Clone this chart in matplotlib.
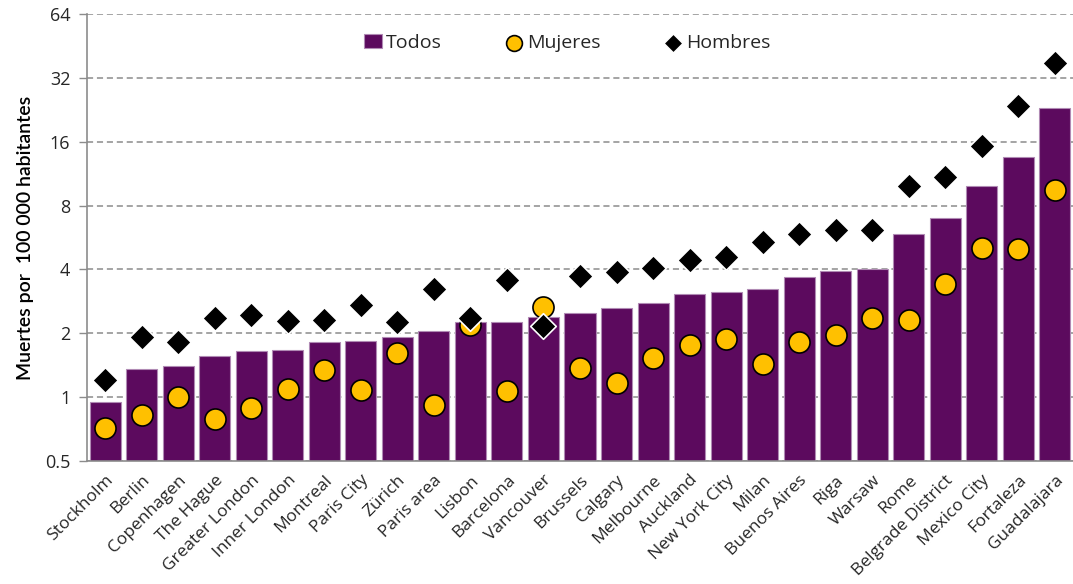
import matplotlib
matplotlib.use("Agg")
import matplotlib.pyplot as plt
from matplotlib.ticker import FixedLocator, NullLocator, FixedFormatter

cities = ["Stockholm", "Berlin", "Copenhagen", "The Hague", "Greater London", "Inner London",
          "Montreal", "Paris City", "Zürich", "Paris area", "Lisbon", "Barcelona", "Vancouver",
          "Brussels", "Calgary", "Melbourne", "Auckland", "New York City", "Milan", "Buenos Aires",
          "Riga", "Warsaw", "Rome", "Belgrade District", "Mexico City", "Fortaleza", "Guadalajara"]
todos = [0.95, 1.36, 1.40, 1.56, 1.65, 1.66, 1.82, 1.83, 1.93, 2.04, 2.25, 2.25, 2.38,
         2.48, 2.62, 2.77, 3.05, 3.12, 3.25, 3.67, 3.95, 4.0, 5.85, 7.0, 9.84, 13.6, 23.1]
mujeres = [0.715, 0.82, 1.0, 0.79, 0.89, 1.09, 1.34, 1.08, 1.61, 0.92, 2.2, 1.07, 2.65,
           1.37, 1.16, 1.53, 1.76, 1.87, 1.43, 1.82, 1.97, 2.35, 2.30, 3.43, 5.03, 4.97, 9.5]
hombres = [1.2, 1.92, 1.82, 2.35, 2.43, 2.28, 2.3, 2.71, 2.25, 3.25, 2.35, 3.55, 2.16,
           3.71, 3.91, 4.08, 4.41, 4.56, 5.36, 5.85, 6.17, 6.12, 9.84, 10.9, 15.3, 23.6, 37.6]
yticks = [0.5, 1, 2, 4, 8, 16, 32, 64]
ytick_labels = ["0.5", "1", "2", "4", "8", "16", "32", "64"]

plt.rcParams['font.family'] = ['Open Sans', 'DejaVu Sans']

fig = plt.figure(figsize=(10.73, 5.84), dpi=100)
ax = fig.add_axes([87/1073, 1 - 461/584, (1073 - 87)/1073, (461 - 14)/584])

x = list(range(len(cities)))
hb = ax.bar(x, todos, width=0.85, color="#5C0A5E", edgecolor="#B08AB4", linewidth=0.8,
            label="Todos", zorder=2, bottom=0.0001)
hm = ax.scatter(x, mujeres, s=230, marker="o", color="#FFC000", edgecolor="black",
                linewidth=1.2, label="Mujeres", zorder=3)
hh = ax.scatter(x, hombres, s=170, marker="D", color="black", edgecolor="white",
                linewidth=1.2, label="Hombres", zorder=4)

ax.set_yscale("log", base=2)
ax.set_ylim(0.5, 64)
ax.set_xlim(-0.5, len(cities) - 0.5)
ax.yaxis.set_major_locator(FixedLocator(yticks))
ax.yaxis.set_major_formatter(FixedFormatter(ytick_labels))
ax.yaxis.set_minor_locator(NullLocator())
ax.grid(axis="y", color="#8C8C8C", linestyle=(0, (4, 2.5)), linewidth=1.1, zorder=0)
ax.set_axisbelow(True)

ax.set_xticks(x)
ax.set_xticklabels(cities, rotation=45, ha="right", rotation_mode="anchor", fontsize=12.5,
                   color="#262626")
ax.tick_params(axis="x", length=0, pad=8)
ax.tick_params(axis="y", length=6, width=1, color="#8C8C8C", labelsize=13, labelcolor="#262626",
               pad=6)

for s in ["top", "right"]:
    ax.spines[s].set_visible(False)
for s in ["left", "bottom"]:
    ax.spines[s].set_color("#8C8C8C")
    ax.spines[s].set_linewidth(1.2)

ax.set_ylabel("Muertes por  100 000 habitantes", fontsize=14, fontfamily=["Lato", "DejaVu Sans"],
              fontweight="semibold", color="black", labelpad=8)

leg = ax.legend([hb, hm, hh], ["Todos", "Mujeres", "Hombres"], loc="upper center",
                bbox_to_anchor=(0.487, 0.995), ncol=3, frameon=False,
                fontsize=14, columnspacing=3.3, handletextpad=0.2, markerscale=0.75,
                handlelength=0.9, labelcolor="#262626")

fig.savefig("out.png", dpi=100)
